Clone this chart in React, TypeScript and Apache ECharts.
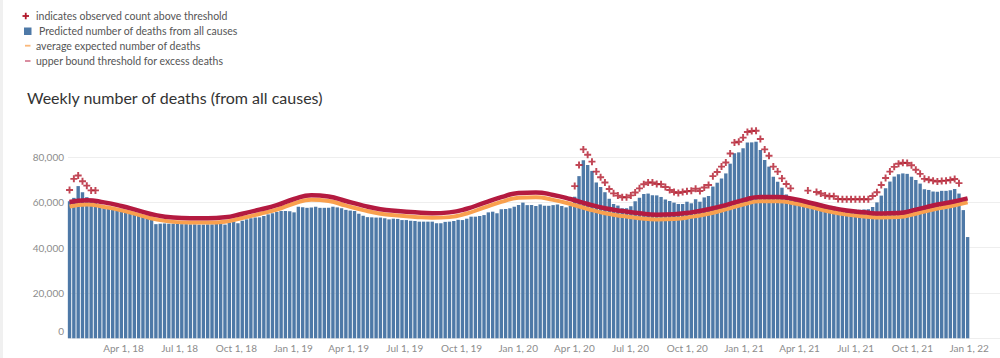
import React, { useEffect, useRef } from "react";
import * as echarts from "echarts";

// ---- time frame -------------------------------------------------------
const DAY = 86400000;
const FIRST_WEEK_CENTER = Date.UTC(2018, 0, 3, 12); // mid-point of the week ending Jan 6, 2018
const AXIS_MIN = Date.UTC(2018, 0, 1);
const AXIS_MAX = Date.UTC(2022, 1, 20);
const TICK_DATES = [
  Date.UTC(2018, 3, 1), Date.UTC(2018, 6, 1), Date.UTC(2018, 9, 1),
  Date.UTC(2019, 0, 1), Date.UTC(2019, 3, 1), Date.UTC(2019, 6, 1), Date.UTC(2019, 9, 1),
  Date.UTC(2020, 0, 1), Date.UTC(2020, 3, 1), Date.UTC(2020, 6, 1), Date.UTC(2020, 9, 1),
  Date.UTC(2021, 0, 1), Date.UTC(2021, 3, 1), Date.UTC(2021, 6, 1), Date.UTC(2021, 9, 1),
  Date.UTC(2022, 0, 1),
];
const MONTHS = ["Jan", "Feb", "Mar", "Apr", "May", "Jun", "Jul", "Aug", "Sep", "Oct", "Nov", "Dec"];
const Y_TICKS_STEP = 20000;

// ---- weekly predicted deaths (thousands), weeks 0..208 -----------------
const predicted = [
  60.5, 62.0, 67.2, 64.5, 62.3, 61.0, 60.5, 58.0, 57.6, 57.2,
  56.8, 56.4, 56.0, 55.6, 55.1, 54.6, 54.1, 53.6, 53.0, 52.4,
  50.4, 50.6, 50.7, 50.6, 50.6, 50.5, 50.4, 50.4, 50.3, 50.3,
  50.2, 50.2, 50.3, 50.3, 50.5, 50.7, 50.2, 51.1, 51.5, 50.8,
  51.9, 52.5, 53.0, 53.3, 53.4, 54.0, 54.7, 55.2, 55.8, 56.2,
  56.2, 56.1, 55.6, 58.1, 57.9, 57.6, 57.8, 58.1, 57.6, 57.6,
  57.6, 58.1, 57.8, 57.4, 56.7, 56.4, 56.2, 55.0, 54.1, 53.5,
  53.4, 53.3, 53.3, 53.0, 52.5, 52.8, 52.7, 52.2, 52.2, 51.9,
  51.8, 51.5, 51.5, 51.5, 51.5, 50.8, 50.8, 51.4, 51.5, 51.8,
  52.3, 52.2, 52.8, 53.7, 53.7, 54.0, 54.4, 55.6, 55.9, 55.2,
  57.0, 57.1, 57.4, 58.1, 58.8, 59.9, 58.8, 58.8, 58.4, 59.1,
  58.5, 58.5, 58.8, 59.1, 58.4, 57.8, 58.4, 62.5, 71.6, 78.6,
  76.5, 73.9, 68.8, 66.8, 64.5, 61.6, 59.3, 58.6, 57.4, 57.4,
  58.3, 60.5, 62.0, 63.7, 63.9, 63.2, 63.1, 62.4, 61.3, 60.6,
  59.9, 59.3, 59.3, 60.3, 59.6, 61.4, 60.3, 62.2, 62.8, 67.0,
  68.7, 70.6, 72.8, 77.1, 81.7, 82.1, 83.9, 86.5, 86.5, 86.8,
  83.1, 78.7, 75.8, 71.3, 69.1, 66.5, 63.5, 62.2, 61.5, 61.1,
  60.6, 60.6, 59.9, 60.0, 59.4, 58.7, 58.2, 58.2, 57.0, 57.0,
  56.9, 56.9, 56.8, 56.8, 56.9, 57.0, 58.0, 60.0, 63.0, 66.3,
  69.2, 71.4, 72.4, 72.8, 72.6, 71.3, 69.9, 68.3, 65.8, 65.5,
  64.8, 64.7, 65.1, 65.1, 65.4, 65.9, 63.9, 56.6, 44.7,
];

// ---- "+" marks: [week index, plotted height in thousands] -------------
const aboveThreshold: [number, number][] = [
  [0, 65.5], [1, 70.4], [2, 71.9], [3, 69.3], [4, 67.4], [5, 65.3], [6, 65.3],
  [117, 67.2], [118, 76.5], [119, 83.4], [120, 81.0], [121, 78.0], [122, 73.6], [123, 71.1],
  [124, 68.8], [125, 65.9], [126, 64.0], [127, 63.0], [128, 62.3], [129, 62.3], [130, 63.1],
  [131, 64.4], [132, 66.2], [133, 68.0], [134, 68.8], [135, 68.8], [136, 68.1], [137, 68.0],
  [138, 66.8], [139, 65.5], [140, 64.6], [141, 64.1], [142, 64.6], [143, 64.9], [144, 65.1],
  [145, 66.0], [146, 65.0], [147, 66.6], [148, 67.7], [149, 71.6], [150, 73.4], [151, 75.8],
  [152, 77.6], [153, 81.6], [154, 86.4], [155, 86.8], [156, 88.6], [157, 91.1], [158, 91.5],
  [159, 91.6], [160, 88.0], [161, 83.4], [162, 80.6], [163, 75.8], [164, 73.6], [165, 70.6],
  [166, 68.1], [167, 66.2],
  [171, 65.2], [173, 64.6], [174, 63.9], [175, 63.1], [176, 62.7], [177, 62.7], [178, 61.5],
  [179, 61.4], [180, 61.4], [181, 61.4], [182, 61.4], [183, 61.4], [184, 61.4], [185, 61.4],
  [186, 62.8], [187, 64.5], [188, 67.7], [189, 70.8], [190, 73.6], [191, 75.7], [192, 77.1],
  [193, 77.5], [194, 77.4], [195, 76.4], [196, 74.4], [197, 72.6], [198, 70.4], [199, 70.0],
  [200, 69.6], [201, 69.2], [202, 69.5], [203, 69.6], [204, 69.9], [205, 70.3], [206, 68.5],
];

// ---- expected / threshold lines, read every 4th week (thousands) --------
const LINE_STEP = 4;
const averageExpected = [
  58.2, 59.1, 58.0, 56.5, 54.5, 52.5, 51.4, 51.1, 51.1, 51.5,
  53.1, 54.9, 56.8, 59.5, 61.2, 60.6, 58.6, 56.6, 55.0, 54.2,
  53.6, 53.2, 53.5, 55.1, 57.7, 60.2, 62.1, 62.3, 61.1, 59.3,
  57.1, 55.2, 54.0, 53.0, 52.5, 52.7, 53.6, 55.0, 56.9, 59.1,
  60.5, 60.5, 59.5, 57.8, 56.0, 54.6, 53.8, 53.3, 53.5, 55.0,
  56.8, 58.3, 60.0,
];
const upperBound = [
  60.2, 61.0, 60.0, 58.4, 56.4, 54.4, 53.3, 53.0, 53.0, 53.4,
  55.0, 56.8, 58.8, 61.5, 63.2, 62.6, 60.6, 58.6, 57.0, 56.2,
  55.6, 55.2, 55.6, 57.2, 59.8, 62.3, 64.2, 64.4, 63.3, 61.5,
  59.3, 57.4, 56.2, 55.2, 54.6, 54.8, 55.6, 57.0, 58.8, 61.0,
  62.4, 62.4, 61.4, 59.6, 57.8, 56.4, 55.6, 55.1, 55.3, 56.8,
  58.6, 60.1, 61.8,
];

const LEGEND_LABELS = [
  "indicates observed count above threshold",
  "Predicted number of deaths from all causes",
  "average expected number of deaths",
  "upper bound threshold for excess deaths",
];
const TITLE = "Weekly number of deaths (from all causes)";

const BLUE = "#4e79a7";
const ORANGE = "#f9a04e";
const RED = "#b41a40";
const PLUS = "#b2182b";
const FONT = 'Lato, "Noto Sans", sans-serif';
const PLUS_PATH = "path://M2.9,0L5.1,0L5.1,2.9L8,2.9L8,5.1L5.1,5.1L5.1,8L2.9,8L2.9,5.1L0,5.1L0,2.9L2.9,2.9Z";

const weekTime = (i: number) => FIRST_WEEK_CENTER + i * 7 * DAY;

export default function App() {
  const ref = useRef<HTMLDivElement>(null);

  useEffect(() => {
    if (!ref.current) return;
    const chart = echarts.init(ref.current, undefined, { renderer: "svg" });

    const barData = predicted.map((v, i) => [weekTime(i), v * 1000]);
    const expData = averageExpected.map((v, j) => [weekTime(j * LINE_STEP), v * 1000]);
    const upData = upperBound.map((v, j) => [weekTime(j * LINE_STEP), v * 1000]);
    const plusData = aboveThreshold.map(([i, v]) => [weekTime(i), v * 1000]);

    const legendText = (text: string, x: number, y: number) => ({
      type: "text",
      style: { text, x, y, fill: "#555", fontSize: 10.5, fontFamily: FONT, verticalAlign: "middle" },
    });

    chart.setOption({
      animation: false,
      textStyle: { fontFamily: FONT },
      grid: { left: 68, right: 0, top: 111.8, bottom: 19.7, outerBoundsMode: "none" },
      xAxis: {
        type: "value",
        min: AXIS_MIN,
        max: AXIS_MAX,
        axisLine: { show: false },
        axisTick: { show: false },
        splitLine: { show: false },
        axisLabel: {
          customValues: TICK_DATES,
          hideOverlap: false,
          color: "#8c8c8c",
          fontSize: 10,
          margin: 5,
          formatter: (v: number) => {
            const d = new Date(v);
            return `${MONTHS[d.getUTCMonth()]} ${d.getUTCDate()}, ${String(d.getUTCFullYear()).slice(2)}`;
          },
        },
      },
      yAxis: {
        type: "value",
        min: 0,
        max: 100000,
        interval: Y_TICKS_STEP,
        axisLine: { show: false },
        axisTick: { show: false },
        splitLine: { show: true, showMaxLine: false, lineStyle: { color: "#eeeeee", width: 1 } },
        axisLabel: {
          color: "#8c8c8c",
          fontSize: 10,
          margin: 4,
          showMaxLabel: false,
          formatter: (v: number) => (v === 0 ? "{z|0}" : v >= 100000 ? "" : v.toLocaleString("en-US")),
          rich: { z: { padding: [0, 0, 15, 0], color: "#8c8c8c", fontSize: 10 } },
        },
      },
      series: [
        {
          type: "bar",
          data: barData,
          barWidth: 3.4,
          itemStyle: { color: BLUE },
          z: 1,
        },
        {
          type: "line",
          data: expData,
          smooth: true,
          symbol: "none",
          lineStyle: { color: ORANGE, width: 4 },
          z: 2,
        },
        {
          type: "line",
          data: upData,
          smooth: true,
          symbol: "none",
          lineStyle: { color: RED, width: 4.5 },
          z: 3,
        },
        {
          type: "scatter",
          data: plusData,
          symbol: PLUS_PATH,
          symbolSize: 7,
          itemStyle: { color: PLUS },
          z: 4,
        },
      ],
      graphic: [
        { type: "rect", shape: { x: 0, y: 0, width: 3, height: 358 }, style: { fill: "#f0f0f0" } },
        // legend
        { type: "rect", shape: { x: 22.5, y: 15.1, width: 6.5, height: 1.8 }, style: { fill: PLUS } },
        { type: "rect", shape: { x: 24.85, y: 12.75, width: 1.8, height: 6.5 }, style: { fill: PLUS } },
        legendText(LEGEND_LABELS[0], 36, 16.3),
        { type: "rect", shape: { x: 24, y: 27.5, width: 7.5, height: 7.5 }, style: { fill: BLUE } },
        legendText(LEGEND_LABELS[1], 39, 31),
        { type: "rect", shape: { x: 25, y: 44.8, width: 5.5, height: 1.8 }, style: { fill: ORANGE, opacity: 0.75 } },
        legendText(LEGEND_LABELS[2], 36, 45.7),
        { type: "rect", shape: { x: 25, y: 60.1, width: 5.5, height: 1.8 }, style: { fill: RED, opacity: 0.55 } },
        legendText(LEGEND_LABELS[3], 36, 61),
        // title
        {
          type: "text",
          style: { text: TITLE, x: 27, y: 97.5, fill: "#333", fontSize: 16, fontFamily: FONT, verticalAlign: "middle" },
        },
      ],
    });

    return () => chart.dispose();
  }, []);

  return <div ref={ref} style={{ position: "absolute", left: 0, top: 0, width: 1000, height: 358 }} />;
}
